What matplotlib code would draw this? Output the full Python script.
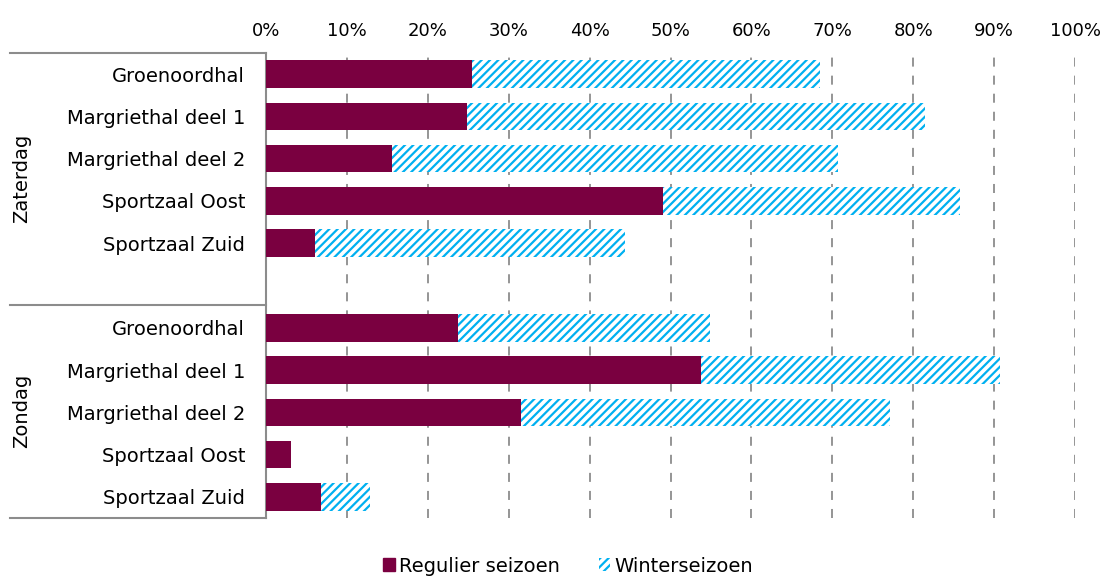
import matplotlib
matplotlib.use("Agg")
import matplotlib.pyplot as plt
from matplotlib.patches import Patch
from matplotlib.lines import Line2D

plt.rcParams['hatch.linewidth'] = 1.6

groups = ["Zaterdag", "Zondag"]
locations = ["Groenoordhal", "Margriethal deel 1", "Margriethal deel 2", "Sportzaal Oost", "Sportzaal Zuid"]
regulier_zaterdag = [25.5, 24.8, 15.6, 49.1, 6.1]
winter_zaterdag = [43.0, 56.7, 55.1, 36.7, 38.3]
regulier_zondag = [23.7, 53.8, 31.5, 3.1, 6.8]
winter_zondag = [31.2, 36.9, 45.6, 0.0, 6.1]
xticks = [0, 10, 20, 30, 40, 50, 60, 70, 80, 90, 100]
xticklabels = [f"{v}%" for v in xticks]

maroon = "#7A0040"
cyan = "#00B0F0"
gray = "#8c8c8c"

fig = plt.figure(figsize=(11.05, 5.77), dpi=100)
ax = fig.add_axes([266/1105, 1-518/577, (1075-266)/1105, (518-53)/577])

ypos_sat = [0, 1, 2, 3, 4]
ypos_sun = [6, 7, 8, 9, 10]
h = 0.65

reg = regulier_zaterdag + regulier_zondag
win = winter_zaterdag + winter_zondag
ypos = ypos_sat + ypos_sun
ax.barh(ypos, reg, height=h, color=maroon, zorder=3)
ax.barh(ypos, win, left=reg, height=h, color="white", edgecolor=cyan,
        hatch="////", linewidth=0, zorder=3)

ax.set_xlim(0, 100)
ax.set_ylim(10.5, -0.5)
ax.set_xticks(xticks)
ax.set_xticklabels(xticklabels, fontsize=13)
ax.xaxis.tick_top()
ax.tick_params(axis='x', length=0, pad=9)
ax.set_yticks(ypos)
ax.set_yticklabels(locations + locations, fontsize=14)
ax.tick_params(axis='y', length=0, pad=15)
for s in ["top", "right", "bottom"]:
    ax.spines[s].set_visible(False)
ax.spines["left"].set_color(gray)
ax.spines["left"].set_linewidth(1.5)
ax.grid(axis='x', linestyle=(0, (5, 5)), color=gray, linewidth=1.3, zorder=0)

# group separator lines
for yy in [53, 305, 518]:
    fig.add_artist(Line2D([10/1105, 266/1105], [1-yy/577, 1-yy/577],
                          color=gray, linewidth=1.5, transform=fig.transFigure))

fig.text(22/1105, 1-178/577, groups[0], rotation=90, ha="center", va="center", fontsize=14)
fig.text(22/1105, 1-411/577, groups[1], rotation=90, ha="center", va="center", fontsize=14)

handles = [Patch(facecolor=maroon, edgecolor=maroon, label="Regulier seizoen"),
           Patch(facecolor="white", edgecolor=cyan, hatch="////", linewidth=0, label="Winterseizoen")]
fig.legend(handles=handles, loc="center", bbox_to_anchor=(568/1105, 1-566/577), ncol=2,
           frameon=False, fontsize=14, handlelength=0.6, handleheight=0.6,
           handletextpad=0.2, columnspacing=2.0)

fig.savefig("out.png", dpi=100)
